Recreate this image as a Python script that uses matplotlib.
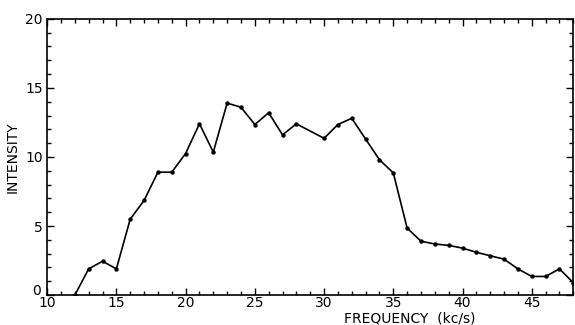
import matplotlib
matplotlib.use("Agg")
import matplotlib.pyplot as plt
from matplotlib.ticker import MultipleLocator
from matplotlib.transforms import ScaledTranslation

# frequency (kc/s) and intensity
freq = [12, 13, 14, 15, 16, 17, 18, 19, 20, 21, 22, 23, 24, 25, 26, 27, 28,
        30, 31, 32, 33, 34, 35, 36, 37, 38, 39, 40, 41, 42, 43, 44, 45, 46, 47, 48]
intensity = [0.0, 1.9, 2.45, 1.9, 5.5, 6.85, 8.9, 8.9, 10.25, 12.4, 10.35, 13.9, 13.6,
             12.35, 13.2, 11.6, 12.4, 11.35, 12.35, 12.8, 11.3, 9.8, 8.85, 4.85,
             3.9, 3.7, 3.6, 3.4, 3.1, 2.85, 2.6, 1.9, 1.35, 1.35, 1.9, 0.9]

xticks = [10, 15, 20, 25, 30, 35, 40, 45]
yticks = [0, 5, 10, 15, 20]

fig = plt.figure(figsize=(5.75, 3.25), dpi=100)
ax = fig.add_axes([0.082, 0.092, 0.915, 0.85])

ax.plot(freq, intensity, color='black', linewidth=1.2, marker='o', ms=2.2)

ax.set_xlim(10, 48)
ax.set_ylim(0, 20)
ax.set_xticks(xticks)
ax.set_yticks(yticks)
ax.xaxis.set_minor_locator(MultipleLocator(1))
ax.yaxis.set_minor_locator(MultipleLocator(1))
ax.tick_params(which='both', direction='in', top=True, right=True,
               labelsize=10, width=1)
ax.tick_params(axis='x', pad=1)
ax.tick_params(axis='y', pad=3)
ax.tick_params(which='major', length=5)
ax.tick_params(which='minor', length=3)
for s in ax.spines.values():
    s.set_linewidth(1.2)

# the "0" sits a touch above and left of the corner so it clears the "10"
lab0 = ax.get_yticklabels()[0]
lab0.set_transform(lab0.get_transform() + ScaledTranslation(-1.5 / 72, 4 / 72, fig.dpi_scale_trans))

ax.set_ylabel("INTENSITY", fontsize=10, labelpad=4)
ax.set_xlabel("FREQUENCY  (kc/s)", fontsize=10)
ax.xaxis.set_label_coords(0.69, -0.058)

fig.savefig("out.png", dpi=100)
